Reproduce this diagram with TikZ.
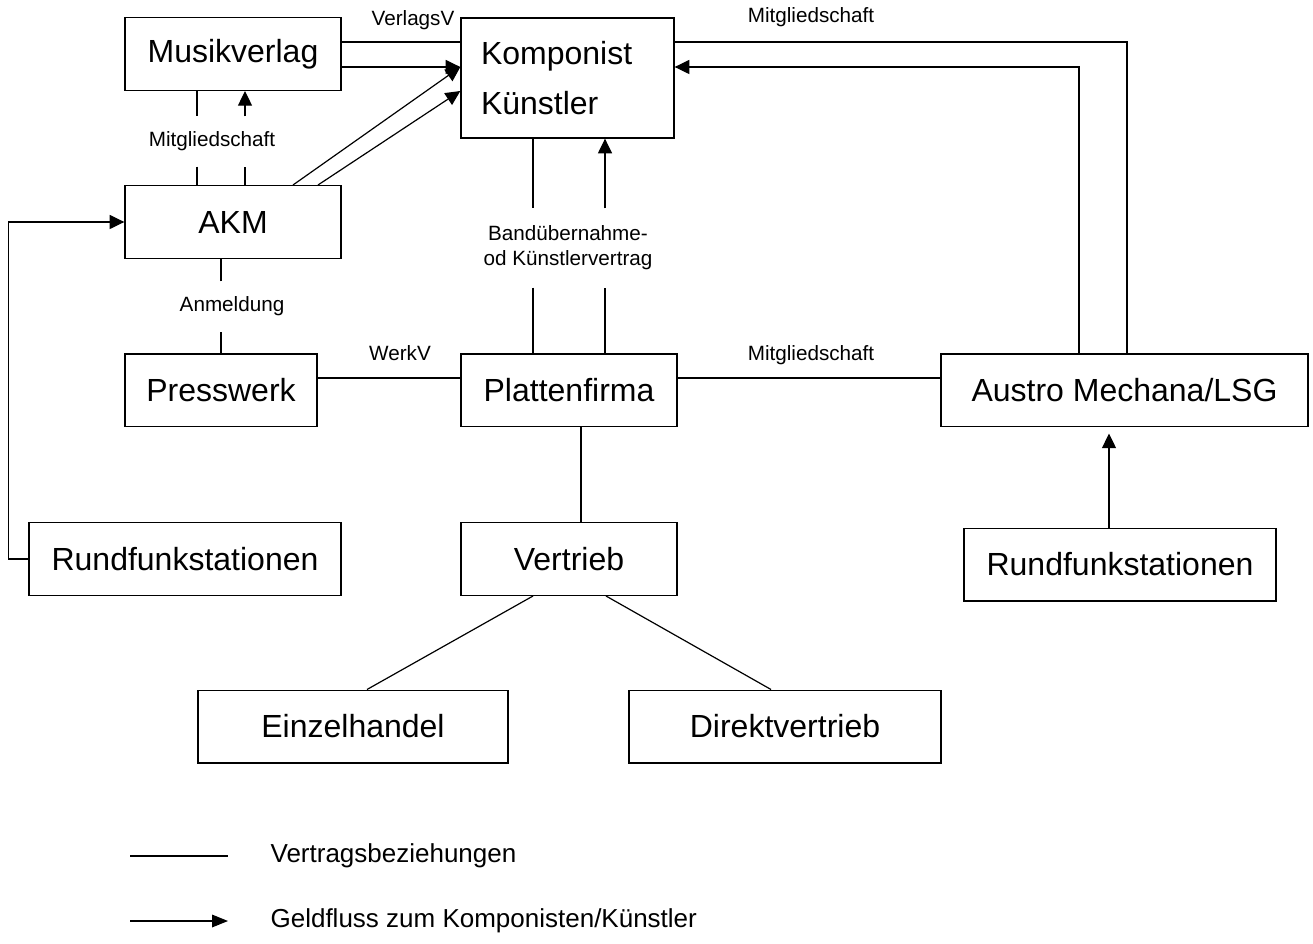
\documentclass[tikz,border=0pt]{standalone}
\usepackage{fontspec}
\setmainfont{Liberation Sans}
\usetikzlibrary{arrows.meta,positioning,calc}

\begin{document}
\begin{tikzpicture}[x=0.75pt,y=-0.75pt,line width=0.9pt,
  box/.style={draw,line width=1pt,inner sep=0pt,minimum height=54.5pt,font=\fontsize{24}{28}\selectfont},
  lbl/.style={inner sep=0pt,font=\fontsize{15.5}{18.75}\selectfont},
  leg/.style={inner sep=0pt,anchor=west,font=\fontsize{19.5}{23}\selectfont},
  geld/.style={-{Triangle[length=11pt,width=10.5pt]}}]
  \useasboundingbox (0,0) rectangle (1313,944);

  % boxes
  \node[box,minimum width=162pt] (musik) at (233,54) {Musikverlag};
  \node[box,minimum height=90pt,text width=129.75pt,inner xsep=15pt,align=left,
        font=\fontsize{24}{37.5}\selectfont] (komp) at (567.5,78) {Komponist\\Künstler};
  \node[box,minimum width=162pt] (akm) at (233,222) {AKM};
  \node[box,minimum width=144pt] (press) at (221,390.5) {Presswerk};
  \node[box,minimum width=162pt] (platte) at (569,390.5) {Plattenfirma};
  \node[box,minimum width=275.25pt] (austro) at (1124.5,390.5) {Austro Mechana/LSG};
  \node[box,minimum width=234pt] (rundL) at (185,559) {Rundfunkstationen};
  \node[box,minimum width=162pt] (vertrieb) at (569,559) {Vertrieb};
  \node[box,minimum width=234pt] (rundR) at (1120,564.5) {Rundfunkstationen};
  \node[box,minimum width=232.5pt] (einzel) at (353,726.5) {Einzelhandel};
  \node[box,minimum width=234pt] (direkt) at (785,726.5) {Direktvertrieb};

  % labels
  \node[lbl] (verl) at (413,20) {VerlagsV};
  \node[lbl,minimum height=36.75pt] (mitg1) at (212,141.5) {Mitgliedschaft};
  \node[lbl,minimum height=58.5pt,align=center] (band) at (568,248) {Bandübernahme-\\od Künstlervertrag};
  \node[lbl,minimum height=36.75pt] (anm) at (232,306.5) {Anmeldung};
  \node[lbl] (werk) at (400,353) {WerkV};
  \node[lbl] (mitg2) at (811,17) {Mitgliedschaft};
  \node[lbl] (mitg3) at (811,355) {Mitgliedschaft};

  % Musikverlag - Komponist
  \draw ([yshift=9pt]musik.east) -- ([yshift=9pt]musik.east -| komp.west);
  \draw[geld] ([yshift=-9.75pt]musik.east) -- ([yshift=-9.75pt]musik.east -| komp.west);

  % Musikverlag - AKM
  \draw ([xshift=-27pt]musik.south) -- ([xshift=-27pt]musik.south |- mitg1.north);
  \draw ([xshift=-27pt]musik.south |- mitg1.south) -- ([xshift=-27pt]akm.north);
  \draw ([xshift=9pt]akm.north) -- ([xshift=9pt]akm.north |- mitg1.south);
  \draw[geld] ([xshift=9pt]akm.north |- mitg1.north) -- ([xshift=9pt]musik.south);

  % AKM - Komponist
  \draw[geld] ([xshift=45pt]akm.north) -- ([yshift=8.25pt]komp.west);
  \draw[geld] ([xshift=63.75pt]akm.north) -- ([yshift=-9.75pt]komp.west);

  % AKM - Presswerk
  \draw (press.north) -- (press.north |- anm.south);
  \draw (press.north |- anm.north) -- (press.north |- akm.south);

  % Komponist - Plattenfirma
  \draw ([xshift=-25.875pt]komp.south) -- ([xshift=-25.875pt]komp.south |- band.north);
  \draw ([xshift=-25.875pt]komp.south |- band.south) -- ([xshift=-25.875pt]komp.south |- platte.north);
  \draw ([xshift=28.125pt]komp.south |- platte.north) -- ([xshift=28.125pt]komp.south |- band.south);
  \draw[geld] ([xshift=28.125pt]komp.south |- band.north) -- ([xshift=28.125pt]komp.south);

  % Plattenfirma
  \draw ([yshift=9.375pt]press.east) -- ([yshift=9.375pt]press.east -| platte.west);
  \draw ([yshift=9.375pt]platte.east) -- ([yshift=9.375pt]platte.east -| austro.west);
  \draw ([xshift=9pt]platte.south) -- ([xshift=9pt]platte.south |- vertrieb.north);

  % Austro Mechana - Komponist
  \draw ([yshift=27pt]komp.east) -| ([xshift=1.875pt]austro.north);
  \draw[geld] ([xshift=-34.125pt]austro.north) |- ([yshift=8.25pt]komp.east);

  % Rundfunk
  \draw[geld] (rundL.west) -- ++(-15pt,0) |- (akm.west);
  \draw[geld,shorten >=4.5pt] ([xshift=-8.25pt]rundR.north) -- ([xshift=-8.25pt]rundR.north |- austro.south);

  % Vertrieb
  \draw ([xshift=-27pt]vertrieb.south) -- ([xshift=10.5pt]einzel.north);
  \draw ([xshift=27.75pt]vertrieb.south) -- ([xshift=-10.5pt]direkt.north);

  % legend
  \draw (130,856) -- (228,856);
  \node[leg] (leg1) at (270,856) {Vertragsbeziehungen};
  \draw[-{Triangle[length=12pt,width=9.5pt]}] (130,921) -- (228,921);
  \node[leg] (leg2) at (270,921) {Geldfluss zum Komponisten/Künstler};
\end{tikzpicture}
\end{document}
